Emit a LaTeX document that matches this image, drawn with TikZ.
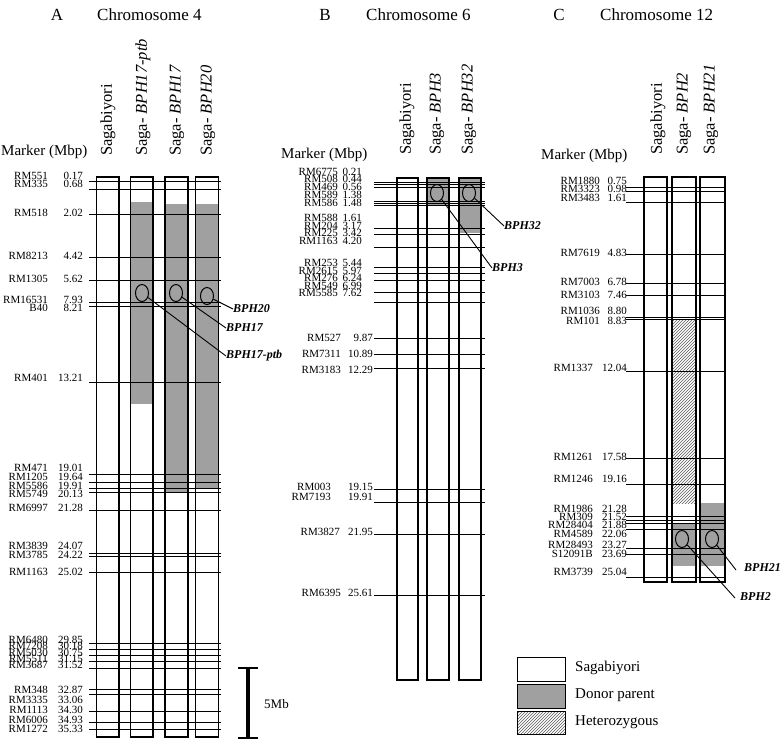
\documentclass[tikz,border=0pt]{standalone}
\usepackage{fontspec}
\setmainfont{Liberation Serif}
\usetikzlibrary{shapes.geometric,patterns,calc}
\definecolor{donor}{RGB}{160,160,160}
\begin{document}
\begin{tikzpicture}[x=1pt,y=-1pt,
  mline/.style={line width=0.9pt},
  chrbox/.style={line width=1.3pt},
  mlab/.style={inner sep=0pt,anchor=east,font=\fontsize{11}{11}\selectfont},
  collab/.style={rotate=90,anchor=west,inner sep=0pt,font=\fontsize{16.5}{17}\selectfont},
  ttl/.style={inner sep=0pt,font=\fontsize{17}{18}\selectfont},
  hdr/.style={inner sep=0pt,anchor=west,font=\fontsize{15}{16}\selectfont},
  gene/.style={inner sep=0pt,anchor=west,font=\fontsize{12}{12}\selectfont\bfseries\itshape},
  locus/.style={ellipse,draw,line width=1pt,minimum width=13pt,minimum height=17pt,inner sep=0pt},
  leader/.style={line width=0.9pt},
  donorfill/.style={fill=donor},
  hetfill/.style={pattern=north east lines,pattern color=black!65},
  legtext/.style={inner sep=0pt,anchor=west,font=\fontsize{15}{16}\selectfont},
]
\useasboundingbox (0,0) rectangle (782,739);

% ---------------- Panel A ----------------
\node[ttl] (tA) at (57,15) {A};
\node[ttl,anchor=west] (cA) at (97,15) {Chromosome 4};
\node[hdr] (mA) at (1,152) {Marker (Mbp)};
\node[collab] (cA1) at (108,156) {Sagabiyori};
\node[collab] (cA2) at (143,156) {Saga- \textit{BPH17-ptb}};
\node[collab] (cA3) at (177,156) {Saga- \textit{BPH17}};
\node[collab] (cA4) at (208,156) {Saga- \textit{BPH20}};

\fill[donorfill] (130.5,202) rectangle (153,404);
\fill[donorfill] (165,204) rectangle (188,493);
\fill[donorfill] (195.5,204) rectangle (218.5,488);

\foreach \n/\v/\ly/\ty [count=\i] in {
  RM551/0.17/181/176, RM335/0.68/189/184, RM518/2.02/214/213,
  RM8213/4.42/257/256, RM1305/5.62/280/279, RM16531/7.93/302/300,
  B40/8.21/306/308, RM401/13.21/382/378, RM471/19.01/474/468,
  RM1205/19.64/482/477, RM5586/19.91/488/486, RM5749/20.13/492/494,
  RM6997/21.28/510/508, RM3839/24.07/553/546, RM3785/24.22/556/555,
  RM1163/25.02/572/572, RM6480/29.85/643/640, RM7208/30.18/649/646,
  RM5030/30.75/655/653, RM5511/31.15/661/659, RM3687/31.52/668/665,
  RM348/32.87/689/690, RM3335/33.06/694/700, RM1113/34.30/711/710,
  RM6006/34.93/722/720, RM1272/35.33/729/729} {
  \draw[mline] (89,\ly) -- (221,\ly);
  \node[mlab] (An\i) at (48,\ty) {\n};
  \node[mlab] (Av\i) at (83,\ty) {\v};
}

\draw[chrbox] (96.5,177) rectangle (119,737);
\draw[chrbox] (130.5,177) rectangle (153,737);
\draw[chrbox] (165,177) rectangle (188,737);
\draw[chrbox] (195.5,177) rectangle (218.5,737);

\node[locus] (eA2) at (142,293) {};
\node[locus] (eA3) at (176,293) {};
\node[locus] (eA4) at (207,296) {};
\node[gene] (gA4) at (233,309) {BPH20};
\node[gene] (gA3) at (226,328) {BPH17};
\node[gene] (gA2) at (226,356) {BPH17-ptb};
\draw[leader] (eA4) -- (gA4.west);
\draw[leader] (eA3) -- (gA3.west);
\draw[leader] (eA2) -- (gA2.west);

% scale bar
\coordinate (sbT) at (248,668);
\coordinate (sbB) at (248,738);
\draw[line width=4pt] (sbT) -- (sbB);
\draw[line width=1.5pt] (238,668) -- (258,668);
\draw[line width=1.5pt] (238,738) -- (258,738);
\node[legtext,font=\fontsize{13}{14}\selectfont] (sbL) at (264,704) {5Mb};

% ---------------- Panel B ----------------
\node[ttl] (tB) at (325,15) {B};
\node[ttl,anchor=west] (cB) at (366,15) {Chromosome 6};
\node[hdr] (mB) at (281,155) {Marker (Mbp)};
\node[collab] (cB1) at (407,155) {Sagabiyori};
\node[collab] (cB2) at (437,155) {Saga- \textit{BPH3}};
\node[collab] (cB3) at (469,155) {Saga- \textit{BPH32}};

\fill[donorfill] (427,178) rectangle (449,205);
\fill[donorfill] (459,178) rectangle (481,233);

\foreach \n/\v/\ly/\ty/\nx/\vx [count=\i] in {
  RM6775/0.21/182/172/338/362, RM508/0.44/184/179/338/362,
  RM469/0.56/187/187/338/362, RM589/1.38/201/195/338/362,
  RM586/1.48/203/203/338/362, RM588/1.61/205/218/338/362,
  RM204/3.17/228/226/338/362, RM225/3.42/234/233/338/362,
  RM1163/4.20/247/241/338/362, RM253/5.44/267/263/338/362,
  RM2615/5.97/273/271/338/362, RM276/6.24/280/278/338/362,
  RM549/6.99/292/286/338/362, RM5585/7.62/302/293/338/362,
  RM527/9.87/338/338/341/373, RM7311/10.89/354/354/341/373,
  RM3183/12.29/368/370/341/373, RM003/19.15/489/487/331/373,
  RM7193/19.91/502/497/331/373, RM3827/21.95/534/532/340/373,
  RM6395/25.61/595/593/341/373} {
  \draw[mline] (374,\ly) -- (485,\ly);
  \node[mlab] (Bn\i) at (\nx,\ty) {\n};
  \node[mlab] (Bv\i) at (\vx,\ty) {\v};
}

\draw[chrbox] (397,178) rectangle (418,680);
\draw[chrbox] (427,178) rectangle (449,680);
\draw[chrbox] (459,178) rectangle (481,680);

\node[locus] (eB2) at (437,193) {};
\node[locus] (eB3) at (469,193) {};
\node[gene] (gB3) at (504,226) {BPH32};
\node[gene] (gB2) at (492,268) {BPH3};
\draw[leader] (eB3) -- (gB3.west);
\draw[leader] (eB2) -- (gB2.west);

% ---------------- Panel C ----------------
\node[ttl] (tC) at (559,15) {C};
\node[ttl,anchor=west] (cC) at (600,15) {Chromosome 12};
\node[hdr] (mC) at (541,156) {Marker (Mbp)};
\node[collab] (cC1) at (658,155) {Sagabiyori};
\node[collab] (cC2) at (684,155) {Saga- \textit{BPH2}};
\node[collab] (cC3) at (711,155) {Saga- \textit{BPH21}};

\fill[hetfill] (672,319) rectangle (696,503);
\fill[donorfill] (672,524) rectangle (696,566);
\fill[donorfill] (700,503) rectangle (725,566);

\foreach \n/\v/\ly/\ty/\nx [count=\i] in {
  RM1880/0.75/187/181/600, RM3323/0.98/191/189/600,
  RM3483/1.61/202/198/600, RM7619/4.83/254/253/600,
  RM7003/6.78/283/282/600, RM3103/7.46/295/295/600,
  RM1036/8.80/317/311/600, RM101/8.83/319/321/600,
  RM1337/12.04/371/368/593, RM1261/17.58/458/457/593,
  RM1246/19.16/484/479/593, RM1986/21.28/516/509/593,
  RM309/21.52/520/517/593, RM28404/21.88/523/525/593,
  RM4589/22.06/529/534/593, RM28493/23.27/548/545/593,
  S12091B/23.69/554/554/593, RM3739/25.04/577/572/593} {
  \draw[mline] (626,\ly) -- (726,\ly);
  \node[mlab] (Cn\i) at (\nx,\ty) {\n};
  \node[mlab] (Cv\i) at (627,\ty) {\v};
}

\draw[chrbox] (644,177) rectangle (667,582);
\draw[chrbox] (672,177) rectangle (696,582);
\draw[chrbox] (700,177) rectangle (725,582);

\node[locus] (eC2) at (682,539) {};
\node[locus] (eC3) at (712,539) {};
\node[gene] (gC3) at (744,568) {BPH21};
\node[gene] (gC2) at (740,597) {BPH2};
\draw[leader] (eC3) -- ($(gC3.west)+(-8,2)$);
\draw[leader] (eC2) -- ($(gC2.west)+(-5,1)$);

% ---------------- Legend ----------------
\draw[chrbox,line width=1pt] (517,657) rectangle (565,681);
\draw[chrbox,line width=1pt,donorfill] (517,684) rectangle (565,708);
\draw[chrbox,line width=1pt,hetfill] (517,711) rectangle (565,734);
\node[legtext] (l1) at (575,668) {Sagabiyori};
\node[legtext] (l2) at (575,695) {Donor parent};
\node[legtext] (l3) at (575,722) {Heterozygous};
\end{tikzpicture}
\end{document}
